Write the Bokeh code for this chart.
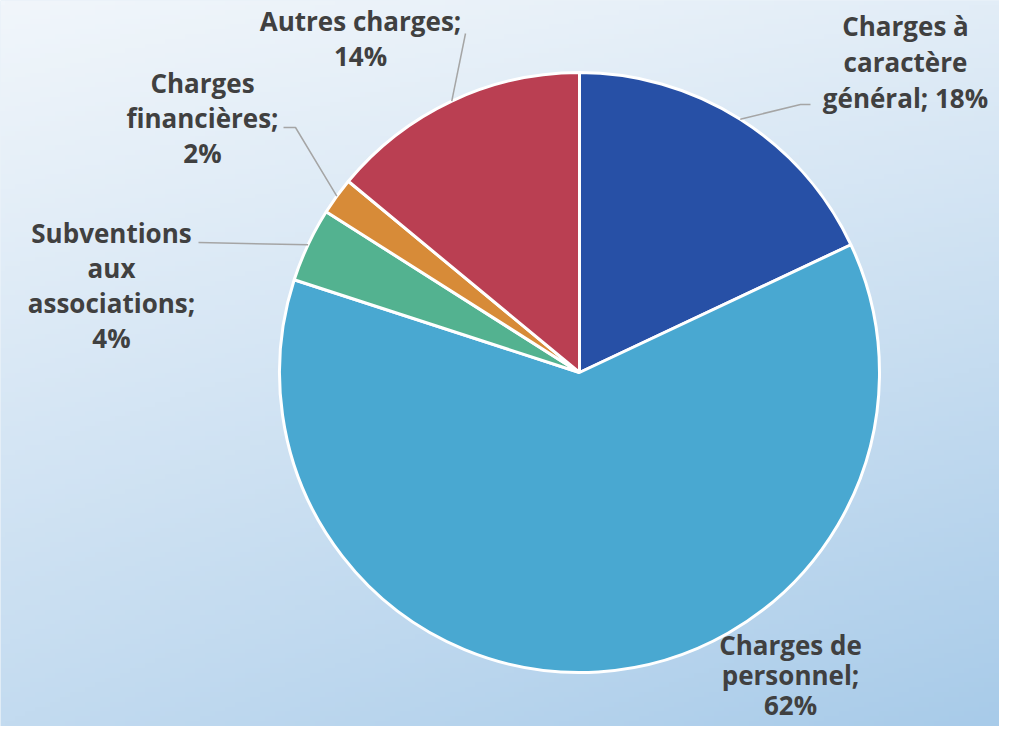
import numpy as np
from bokeh.plotting import figure
from bokeh.models import Range1d, ColumnDataSource
from bokeh.core.properties import value
from bokeh.embed import file_html
from bokeh.resources import INLINE

# ---- data ----
categories = ["Charges à\ncaractère\ngénéral", "Charges de\npersonnel",
              "Subventions\naux\nassociations", "Charges\nfinancières", "Autres charges"]
values = [18, 62, 4, 2, 14]
colors = ["#2750a6", "#49a8d1", "#53b290", "#d78b38", "#ba3f52"]
pct_sep = [" ", "\n", "\n", "\n", "\n"]

# ---- layout (pixel coordinates, y measured upward from bottom of a 742px tall frame) ----
FW, FH = 999, 726
H = 742
TXT_DY = 10  # renderer places alphabetic baseline slightly lower; compensate
cx, cy, R = 579, H - 372, 300
label_anchor = [(905, H - 35), (790, H - 654), (111, H - 242), (202, H - 92), (360, H - 30)]
label_gap = [36, 30, 35, 35, 35]
leader_start = [[(810, H - 104), (800, H - 104)], None,
                [(198, H - 242)], [(283, H - 127), (295, H - 127)],
                [(465, H - 33)]]

p = figure(width=FW, height=FH, x_range=Range1d(0, FW), y_range=Range1d(H - FH, H),
           output_backend="svg", toolbar_location=None, min_border=0,
           x_axis_type=None, y_axis_type=None)
p.grid.visible = False
p.outline_line_color = None
p.background_fill_color = "#d6e6f4"
p.border_fill_color = "#d6e6f4"

# background gradient
gw, gh = 200, 150
tl = np.array([241, 246, 251]); tr = np.array([226, 237, 247])
bl = np.array([195, 219, 240]); br = np.array([168, 203, 233])
u = np.linspace(0, 1, gw)[None, :, None]
v = np.linspace(0, 1, gh)[:, None, None]  # 0 = bottom
top = tl * (1 - u) + tr * u
bot = bl * (1 - u) + br * u
img = bot * (1 - v) + top * v
rgba = np.empty((gh, gw), dtype=np.uint32)
view = rgba.view(dtype=np.uint8).reshape((gh, gw, 4))
view[:, :, :3] = img.astype(np.uint8)
view[:, :, 3] = 255
p.image_rgba(image=[rgba], x=0, y=H - FH, dw=FW, dh=FH)

# wedges: clockwise from 12 o'clock
vals = np.array(values, dtype=float)
frac = vals / vals.sum()
cum = np.concatenate([[0], np.cumsum(frac)])
start = np.pi / 2 - cum[1:] * 2 * np.pi
end = np.pi / 2 - cum[:-1] * 2 * np.pi
src = ColumnDataSource(dict(x=[cx] * len(vals), y=[cy] * len(vals), start=start, end=end, color=colors))
p.wedge(x="x", y="y", radius=R, start_angle="start", end_angle="end", fill_color="color",
        line_color="white", line_width=3, source=src)

# leader lines
mid = np.pi / 2 - (cum[:-1] + frac / 2) * 2 * np.pi
for i in range(len(vals)):
    if leader_start[i] is None:
        continue
    pts = list(leader_start[i]) + [(cx + R * np.cos(mid[i]), cy + R * np.sin(mid[i]))]
    p.line([q[0] for q in pts], [q[1] for q in pts], line_color="#a5a5a5", line_width=1.5)

# labels
for i, cat in enumerate(categories):
    text = f"{cat};{pct_sep[i]}{values[i]}%"
    lines = text.split("\n")
    ax, ay = label_anchor[i]
    p.text(x=[ax] * len(lines), y=[ay + TXT_DY - k * label_gap[i] for k in range(len(lines))], text=lines,
           text_align="center", text_baseline="alphabetic", text_font=value("Open Sans"),
           text_font_style="bold", text_font_size="26px", text_color="#404040")

open("out.html", "w").write(file_html(p, INLINE))
